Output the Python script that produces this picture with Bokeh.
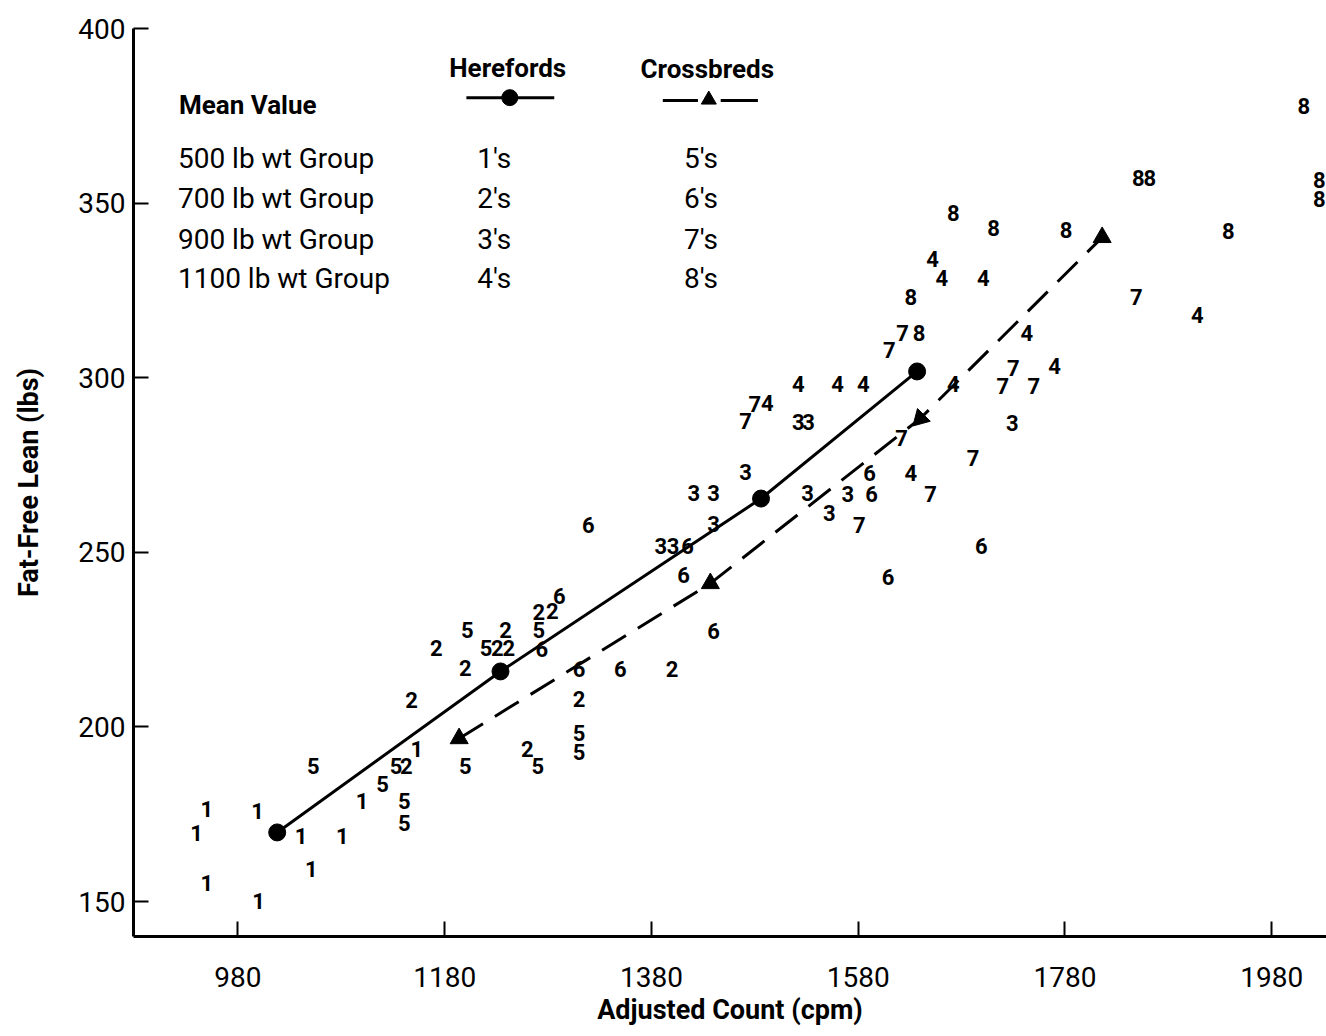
from bokeh.plotting import figure
from bokeh.models import Range1d
from bokeh.core.properties import value
from bokeh.embed import file_html
from bokeh.resources import INLINE

# ---------------- data ----------------
x_ticks = [980, 1180, 1380, 1580, 1780, 1980]
y_ticks = [150, 200, 250, 300, 350, 400]

# group 1: Herefords 500 lb
cpm_1 = [950, 999, 940, 1041, 1081, 950, 1051, 1000, 1100, 1153]
lean_1 = [176.6, 176.0, 169.5, 168.9, 168.9, 155.4, 159.2, 150.3, 178.9, 193.8]
# group 2: Herefords 700 lb
cpm_2 = [1143, 1172, 1200, 1231, 1242, 1239, 1271, 1284, 1400, 1310, 1260, 1148]
lean_2 = [188.7, 222.5, 217.0, 222.5, 222.5, 227.9, 232.8, 233.3, 216.7, 208.1, 193.8, 207.8]
# group 3: Herefords 900 lb
cpm_3 = [1389, 1401, 1440, 1421, 1440, 1471, 1522, 1532, 1531, 1552, 1570, 1729]
lean_3 = [251.9, 251.9, 258.2, 267.1, 267.1, 272.9, 287.2, 287.2, 267.1, 261.4, 266.8, 286.9]
# group 4: Herefords 1100 lb
cpm_4 = [1492, 1522, 1560, 1585, 1631, 1672, 1652, 1661, 1701, 1743, 1770, 1908]
lean_4 = [292.9, 298.3, 298.3, 298.3, 272.6, 298.3, 334.1, 328.7, 328.7, 312.7, 303.5, 318.1]
# group 5: Crossbreds 500 lb
cpm_5 = [1053, 1120, 1133, 1141, 1141, 1202, 1220, 1271, 1310, 1310, 1270, 1200]
lean_5 = [188.7, 183.8, 188.7, 178.9, 172.6, 227.9, 222.5, 227.9, 198.4, 192.7, 188.7, 188.7]
# group 6: Crossbreds 700 lb
cpm_6 = [1291, 1274, 1310, 1350, 1319, 1415, 1411, 1440, 1591, 1593, 1609, 1699]
lean_6 = [237.6, 222.2, 216.7, 216.7, 257.7, 251.9, 243.4, 227.6, 272.6, 266.8, 242.8, 251.7]
# group 7: Crossbreds 900 lb
cpm_7 = [1610, 1623, 1480, 1471, 1581, 1650, 1622, 1730, 1720, 1750, 1691, 1849]
lean_7 = [307.8, 312.7, 292.6, 287.7, 257.7, 266.8, 282.6, 302.9, 297.5, 297.5, 277.1, 323.0]
# group 8: Crossbreds 1100 lb
cpm_8 = [1639, 1672, 1711, 1781, 1938, 1631, 1851, 1862, 2011, 2026, 2026]
lean_8 = [312.7, 347.3, 343.0, 342.4, 341.9, 323.0, 357.3, 357.3, 377.7, 356.5, 351.3]

# group means
hereford_mean_cpm = [1018, 1234, 1486, 1637]
hereford_mean_lean = [169.8, 215.9, 265.4, 301.8]
crossbred_mean_cpm = [1194, 1437, 1640, 1816]
crossbred_mean_lean = [196.7, 241.1, 288.3, 340.2]

group_names = ["500 lb wt Group", "700 lb wt Group", "900 lb wt Group", "1100 lb wt Group"]
hereford_codes = ["1's", "2's", "3's", "4's"]
crossbred_codes = ["5's", "6's", "7's", "8's"]

# ---------------- styles ----------------
FONT = "Roboto"
tri_angles = [2.1, 0.0, 2.36, 0.0]

p = figure(width=1326, height=1036,
           x_range=Range1d(879, 2033), y_range=Range1d(140, 400),
           output_backend="svg", toolbar_location=None,
           min_border_left=133, min_border_right=0,
           min_border_top=28, min_border_bottom=100)
p.outline_line_color = None
p.grid.visible = False
p.background_fill_color = "white"
p.border_fill_color = "white"

for ax in (p.xaxis[0], p.yaxis[0]):
    ax.axis_line_width = 3
    ax.axis_line_color = "black"
    ax.major_tick_in = 15
    ax.major_tick_out = 0
    ax.minor_tick_in = 0
    ax.minor_tick_out = 0
    ax.major_tick_line_width = 2
    ax.major_label_text_font = FONT
    ax.major_label_text_font_size = "28px"
    ax.major_label_text_color = "black"
    ax.axis_label_text_font = FONT
    ax.axis_label_text_font_size = "27px"
    ax.axis_label_text_font_style = "bold"
    ax.axis_label_text_color = "black"

p.xaxis.ticker = x_ticks
p.yaxis.ticker = y_ticks
p.xaxis.axis_label = "Adjusted Count (cpm)"
p.yaxis.axis_label = "Fat-Free Lean (lbs)"
p.xaxis.major_label_standoff = 30
p.xaxis.axis_label_standoff = 4
p.yaxis.major_label_standoff = 8
p.yaxis.axis_label_standoff = 30

# mean lines
p.line(hereford_mean_cpm, hereford_mean_lean, line_color="black", line_width=3)
p.scatter(hereford_mean_cpm, hereford_mean_lean, marker="circle", size=17,
          fill_color="black", line_color="black")
p.line(crossbred_mean_cpm, crossbred_mean_lean, line_color="black", line_width=3,
       line_dash="28 14")
p.scatter(crossbred_mean_cpm, crossbred_mean_lean, marker="triangle", size=18,
          angle=tri_angles, fill_color="black", line_color="black")

# individual animals as digits
groups = [(cpm_1, lean_1, "1"), (cpm_2, lean_2, "2"), (cpm_3, lean_3, "3"),
          (cpm_4, lean_4, "4"), (cpm_5, lean_5, "5"), (cpm_6, lean_6, "6"),
          (cpm_7, lean_7, "7"), (cpm_8, lean_8, "8")]
for xs, ys, d in groups:
    p.text(xs, ys, text=[d] * len(xs), text_align="center", text_baseline="middle",
           text_font=value(FONT), text_font_style="bold", text_font_size="22px",
           text_color="black")

# ---------------- key (in data space) ----------------
row_y = [362.8, 351.3, 339.6, 328.4]
p.text([923], [378.0], text=["Mean Value"], text_align="left", text_baseline="middle",
       text_font=value(FONT), text_font_style="bold", text_font_size="26px")
p.text([922] * 4, row_y, text=group_names, text_align="left", text_baseline="middle",
       text_font=value(FONT), text_font_size="28px")
p.text([1228] * 4, row_y, text=hereford_codes, text_align="center", text_baseline="middle",
       text_font=value(FONT), text_font_size="28px")
p.text([1428] * 4, row_y, text=crossbred_codes, text_align="center", text_baseline="middle",
       text_font=value(FONT), text_font_size="28px")
p.text([1241, 1434], [388.8, 388.3], text=["Herefords", "Crossbreds"], text_align="center",
       text_baseline="middle", text_font=value(FONT), text_font_style="bold",
       text_font_size="26px")
p.line([1201, 1286], [380.2, 380.2], line_color="black", line_width=3)
p.scatter([1243], [380.2], marker="circle", size=16, fill_color="black", line_color="black")
p.line([1391, 1425], [379.4, 379.4], line_color="black", line_width=3)
p.line([1447, 1483], [379.4, 379.4], line_color="black", line_width=3)
p.scatter([1435.5], [379.6], marker="triangle", size=15, fill_color="black", line_color="black")

open("out.html", "w").write(file_html(p, INLINE))
